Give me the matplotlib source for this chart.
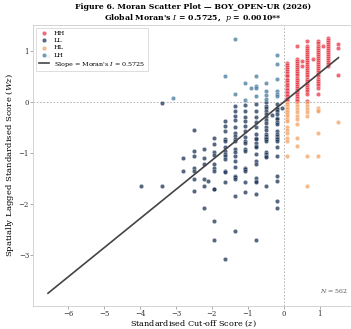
import matplotlib
matplotlib.use("Agg")
import matplotlib.pyplot as plt
import numpy as np

plt.rcParams['font.family'] = ['DejaVu Serif']
plt.rcParams['mathtext.fontset'] = 'dejavuserif'

# ---------------- data ----------------
moran_i = 0.5725
p_value = 0.0010
n_obs = 562
title_line1 = "Figure 6. Moran Scatter Plot \u2014 BOY_OPEN-UR (2026)"

# standardised cut-off score columns (z)
col_x = [-6.56, -3.96, -3.38, -3.09, -2.80, -2.51, -2.22, -1.94, -1.65, -1.36,
         -1.07, -0.78, -0.49, -0.20, 0.08, 0.37, 0.65, 0.94, 1.23, 1.52]

# spatial lag (Wz) values for each column
lag_c00 = [0.90]
lag_c01 = [-1.66]
lag_c02 = [-0.02, -1.66]
lag_c03 = [0.08]
lag_c04 = [-1.10, -1.36]
lag_c05 = [-0.55, -0.96, -1.06, -1.29, -1.36, -1.51, -1.75]
lag_c06 = [-0.93, -1.10, -1.22, -1.51, -1.66, -2.09]
lag_c07 = [-0.71, -0.82, -0.98, -1.04, -1.22, -1.29, -1.35, -1.71, -1.71, -2.33, -2.72]
lag_c08 = [0.51, -0.37, -0.47, -0.57, -0.73, -0.76, -0.89, -0.96, -1.02, -1.07,
           -1.12, -1.35, -1.38, -1.57, -3.08]
lag_c09 = [1.23, 0.15, -0.08, -0.18, -0.27, -0.36, -0.50, -0.60, -0.67, -0.73,
           -0.76, -0.93, -0.99, -1.06, -1.15, -1.27, -1.45, -1.48, -1.51, -1.85, -2.53]
lag_c10 = [0.37, 0.03, -0.06, -0.18, -0.29, -0.37, -0.47, -0.57, -0.68, -0.76,
           -0.80, -0.93, -0.96, -1.29, -1.32, -1.35, -1.58, -1.77]
lag_c11 = [0.51, 0.31, 0.27, 0.12, -0.05, -0.18, -0.29, -0.40, -0.50, -0.63,
           -0.71, -0.73, -0.81, -0.86, -0.89, -1.02, -1.15, -1.22, -1.50, -1.55,
           -1.58, -1.81, -2.72]
lag_c12 = [0.37, 0.22, 0.14, 0.05, -0.01, -0.08, -0.12, -0.18, -0.24, -0.29,
           -0.36, -0.42, -0.49, -0.55, -0.63, -0.71, -0.67, -0.70, -0.73, -0.76,
           -0.99, -1.02, -1.06, -1.09, -1.65]
lag_c13 = [0.93, 0.74, 0.46, 0.22, 0.15, 0.12, -0.05, -0.11, -0.14, -0.18,
           -0.24, -0.31, -0.34, -0.40, -0.44, -0.57, -0.63, -0.66, -0.70, -0.73,
           -0.76, -0.89, -1.06, -1.45, -1.55, -1.94, -2.09]
lag_c14 = [0.77, 0.72, 0.68, 0.64, 0.60, 0.57, 0.53, 0.50, 0.46, 0.43, 0.40,
           0.36, 0.33, 0.30, 0.26, 0.23, 0.20, 0.17, 0.14, 0.11, 0.08, 0.05, 0.02,
           -0.02, -0.05, -0.08, -0.11, -0.14, -0.17, -0.20, -0.24, -0.28, -0.33,
           -0.37, -0.50, -0.55, -0.60, -0.70, -0.76, -1.07]
lag_c15 = [1.10, 0.84, 0.80, 0.76, 0.72, 0.68, 0.64, 0.60, 0.56, 0.52, 0.48,
           0.44, 0.40, 0.36, 0.32, 0.28, 0.24, 0.20, 0.16, 0.12, 0.08, 0.04, 0.02,
           -0.03, -0.08, -0.14, -0.20, -0.27, -0.33, -0.44, -0.70, -0.86]
lag_c16 = [1.19, 1.10, 1.06, 1.02, 0.98, 0.94, 0.90, 0.86, 0.82, 0.78, 0.74,
           0.70, 0.66, 0.62, 0.58, 0.54, 0.50, 0.46, 0.42, 0.38, 0.34, 0.30, 0.26,
           0.22, 0.15, 0.02, -0.02, -0.08, -0.14, -0.20, -0.27, -1.07, -1.66]
lag_c17 = [1.19, 1.15, 1.10, 1.06, 1.02, 0.98, 0.94, 0.90, 0.86, 0.82, 0.78,
           0.74, 0.70, 0.66, 0.62, 0.58, 0.54, 0.50, 0.46, 0.42, 0.38, 0.34, 0.28,
           0.15, -0.11, -0.15, -0.18, -0.60, -1.07]
lag_c18 = [1.26, 1.22, 1.18, 1.14, 1.10, 1.06, 1.02, 0.98, 0.94, 0.90, 0.86,
           0.82, 0.78, 0.74, 0.70]
lag_c19 = [1.13, 1.06, 0.52, -0.40]

# a few observations off the regular columns
extra_x = [-2.10, -0.92, -0.34, -0.06, 0.51, 0.51, 0.80, 1.08]
extra_y = [-1.56, 0.27, -0.25, -0.12, 0.80, 0.70, 0.85, 1.10]

quadrants = ["HH", "LL", "HL", "LH"]
quad_colors = {"HH": "#e63946", "LL": "#1d3557", "HL": "#f4a261", "LH": "#457b9d"}

# ---------------- assemble ----------------
lag_columns = [lag_c00, lag_c01, lag_c02, lag_c03, lag_c04, lag_c05, lag_c06,
               lag_c07, lag_c08, lag_c09, lag_c10, lag_c11, lag_c12, lag_c13,
               lag_c14, lag_c15, lag_c16, lag_c17, lag_c18, lag_c19]
xs, ys = [], []
for cx, col in zip(col_x, lag_columns):
    for v in col:
        xs.append(cx)
        ys.append(v)
xs += extra_x
ys += extra_y
z = np.array(xs)
wz = np.array(ys)

quad = np.where(z >= 0, np.where(wz >= 0, "HH", "HL"), np.where(wz >= 0, "LH", "LL"))

# ---------------- plot ----------------
fig = plt.figure(figsize=(3.51, 3.29), dpi=100)
ax = fig.add_axes([0.0954, 0.0699, 0.9103, 0.8541])

for q in quadrants:
    m = quad == q
    ax.scatter(z[m], wz[m], s=10, color=quad_colors[q], alpha=0.75,
               edgecolors="white", linewidths=0.25, label=q, zorder=3)

xl = np.array([z.min(), z.max()])
ax.plot(xl, moran_i * xl, color="#444444", lw=1.2,
        label=f"Slope = Moran's $I$ = {moran_i:.4f}", zorder=4)

ax.axhline(0, color="#aaaaaa", lw=0.6, ls=(0, (2, 2)), zorder=1)
ax.axvline(0, color="#aaaaaa", lw=0.6, ls=(0, (2, 2)), zorder=1)

ax.set_title(f"{title_line1}\nGlobal Moran's $I$ = {moran_i:.4f},  $p$ = {p_value:.4f}**",
             fontsize=5.6, fontweight="bold", pad=3.5, linespacing=1.2)
ax.set_xlabel("Standardised Cut-off Score ($z$)", fontsize=5.9, labelpad=0)
ax.set_ylabel("Spatially Lagged Standardised Score ($Wz$)", fontsize=6.1, labelpad=2)

ax.set_xticks([-6, -5, -4, -3, -2, -1, 0, 1])
ax.set_yticks([-3, -2, -1, 0, 1])
ax.tick_params(labelsize=5.0, length=2, width=0.5, color="#888888", pad=1.2,
               labelcolor="#333333")
for sp in ax.spines.values():
    sp.set_color("#cccccc")
    sp.set_linewidth(0.6)

ax.text(0.985, 0.04, f"$N$ = {n_obs}", transform=ax.transAxes, ha="right",
        va="bottom", fontsize=4.5, color="#555555")

leg = ax.legend(loc="upper left", fontsize=4.6, frameon=True, framealpha=0.9,
                edgecolor="#cccccc", fancybox=False, handlelength=1.6,
                borderpad=0.4, labelspacing=0.3, markerscale=1.0,
                borderaxespad=0.4)
leg.get_frame().set_linewidth(0.5)

fig.savefig("out.png", dpi=100)
